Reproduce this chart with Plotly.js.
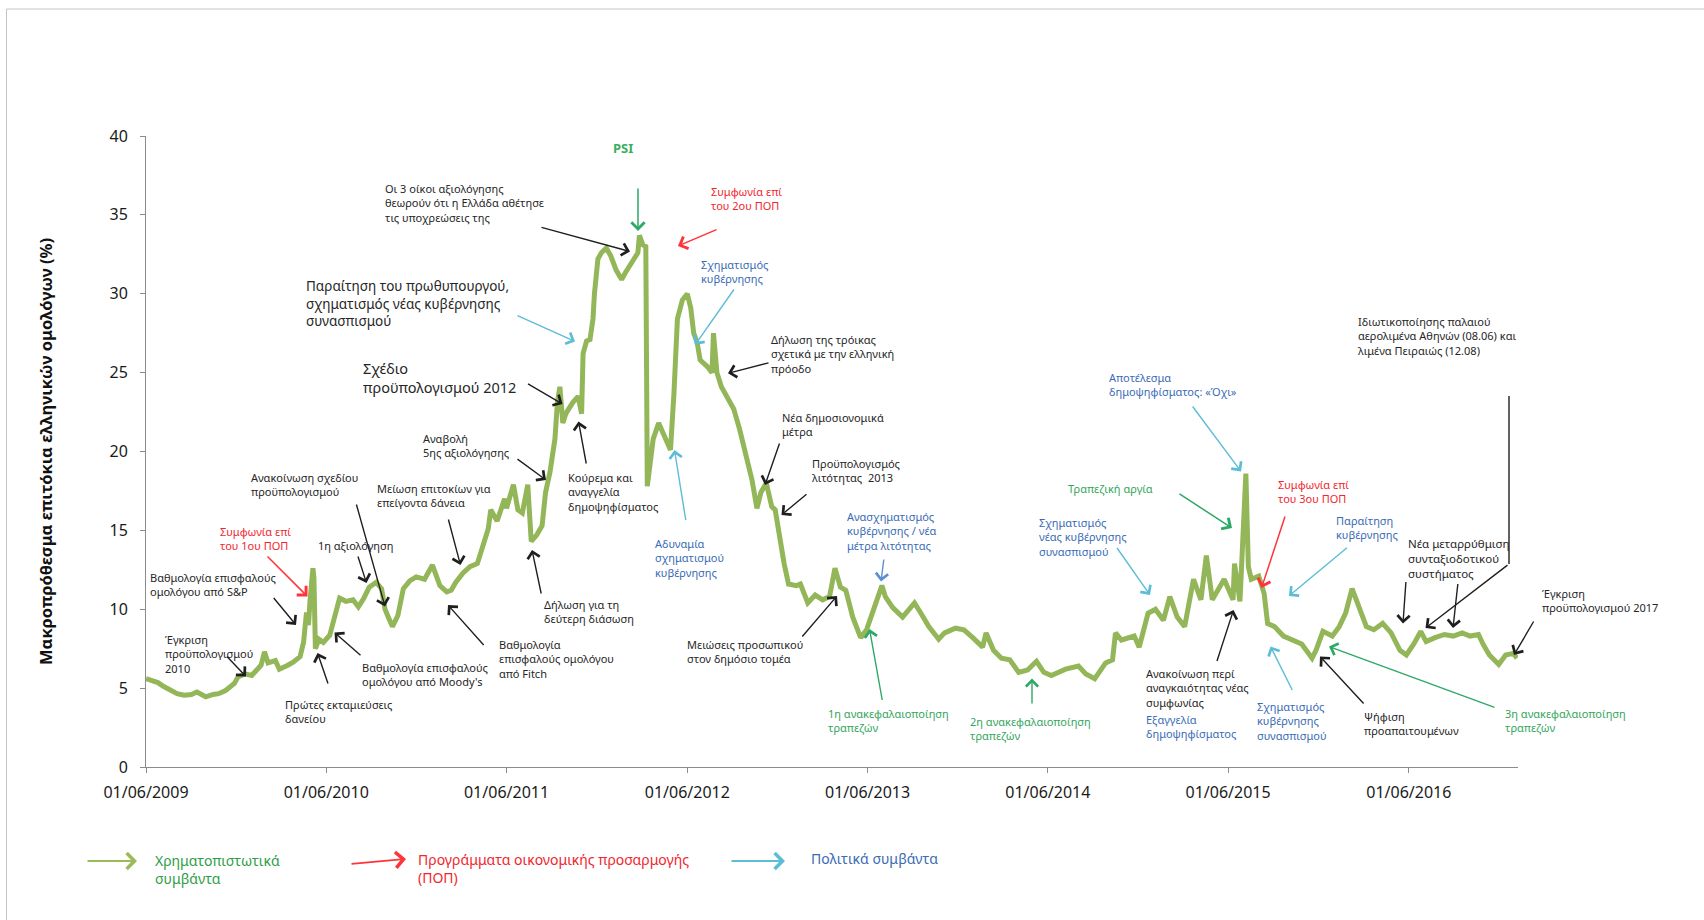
<!DOCTYPE html>
<html>
<head>
<meta charset="utf-8">
<script src="https://cdn.plot.ly/plotly-3.0.1.min.js"></script>
<style>html,body{margin:0;padding:0;background:#fff}#chart{width:1704px;height:920px}</style>
</head>
<body>
<div id="chart"></div>
<script>
// ---- data ----
const dates = [
'2009-06-01','2009-06-15','2009-06-25','2009-07-07','2009-07-22','2009-08-03','2009-08-17','2009-09-01','2009-09-12','2009-09-22',
'2009-09-30','2009-10-15','2009-10-26','2009-11-09','2009-11-20','2009-11-27','2009-12-04','2009-12-18','2010-01-01','2010-01-13',
'2010-01-20','2010-01-27','2010-02-03','2010-02-18','2010-02-26','2010-03-15','2010-03-26','2010-04-09','2010-04-16','2010-04-22',
'2010-04-26','2010-04-29','2010-05-05','2010-05-07','2010-05-10','2010-05-17','2010-05-26','2010-06-08','2010-06-19','2010-06-28',
'2010-07-11','2010-07-25','2010-08-05','2010-08-16','2010-08-27','2010-09-10','2010-09-21','2010-09-28','2010-10-06','2010-10-13',
'2010-10-24','2010-11-04','2010-11-17','2010-11-30','2010-12-17','2011-01-02','2011-01-17','2011-01-31','2011-02-09','2011-02-18',
'2011-03-05','2011-03-19','2011-04-03','2011-04-12','2011-04-25','2011-04-30','2011-05-13','2011-05-28','2011-06-01','2011-06-15',
'2011-06-24','2011-07-03','2011-07-14','2011-07-21','2011-08-01','2011-08-12','2011-08-19','2011-08-28','2011-09-07','2011-09-12',
'2011-09-17','2011-09-23','2011-09-29','2011-10-13','2011-10-24','2011-10-31','2011-11-03','2011-11-10','2011-11-17','2011-11-23',
'2011-11-26','2011-12-03','2011-12-10','2011-12-20','2011-12-29','2012-01-09','2012-01-20','2012-01-27','2012-02-05','2012-02-14',
'2012-02-22','2012-02-25','2012-03-03','2012-03-09','2012-03-12','2012-03-17','2012-03-24','2012-04-04','2012-04-13','2012-04-20',
'2012-04-28','2012-05-05','2012-05-12','2012-05-22','2012-06-01','2012-06-08','2012-06-14','2012-06-21','2012-06-27','2012-07-11',
'2012-07-21','2012-07-24','2012-07-31','2012-08-09','2012-08-20','2012-09-03','2012-09-15','2012-09-29','2012-10-10','2012-10-20',
'2012-10-28','2012-11-08','2012-11-19','2012-11-26','2012-12-03','2012-12-14','2012-12-23','2013-01-08','2013-01-16','2013-01-31',
'2013-02-15','2013-03-02','2013-03-16','2013-03-27','2013-04-07','2013-04-18','2013-05-02','2013-05-18','2013-05-30','2013-06-11',
'2013-06-30','2013-07-07','2013-07-22','2013-08-11','2013-09-04','2013-09-18','2013-10-03','2013-10-23','2013-11-04','2013-11-26',
'2013-12-13','2013-12-31','2014-01-20','2014-01-27','2014-02-11','2014-02-27','2014-03-16','2014-04-03','2014-04-21','2014-05-09',
'2014-05-24','2014-06-08','2014-06-23','2014-07-07','2014-08-02','2014-08-17','2014-09-04','2014-09-19','2014-09-26','2014-10-10',
'2014-10-16','2014-10-28','2014-11-23','2014-12-03','2014-12-21','2015-01-05','2015-01-21','2015-02-03','2015-02-18','2015-03-05',
'2015-03-23','2015-04-07','2015-04-18','2015-04-30','2015-05-24','2015-06-11','2015-06-14','2015-06-25','2015-07-01','2015-07-07',
'2015-07-12','2015-07-18','2015-08-02','2015-08-13','2015-08-20','2015-09-03','2015-09-21','2015-10-10','2015-10-28','2015-11-18',
'2015-11-26','2015-12-10','2015-12-29','2016-01-12','2016-01-25','2016-02-07','2016-02-18','2016-03-07','2016-03-22','2016-04-09',
'2016-04-26','2016-05-14','2016-05-27','2016-06-11','2016-06-25','2016-07-06','2016-07-24','2016-08-12','2016-08-30','2016-09-17',
'2016-10-03','2016-10-20','2016-10-29','2016-11-11','2016-11-30','2016-12-14','2016-12-29','2017-01-06'
];
const yields = [
5.6,5.5,5.35,5.1,4.85,4.65,4.55,4.6,4.75,4.55,
4.45,4.6,4.65,4.85,5.1,5.3,5.7,5.9,5.8,6.2,
6.45,7.3,6.6,6.75,6.2,6.45,6.65,7.0,7.9,9.8,
9.0,10.5,12.6,12.0,7.5,8.1,7.9,8.35,9.8,10.7,
10.5,10.6,10.15,10.7,11.4,11.7,11.3,10.0,9.4,8.9,
9.6,11.3,11.8,12.05,11.9,12.8,11.5,11.1,11.2,11.7,
12.3,12.7,12.9,13.8,15.1,16.3,15.6,17.0,16.4,17.9,
16.3,16.1,17.9,14.3,14.7,15.3,17.4,18.7,20.8,23.1,
24.1,21.8,22.4,23.1,23.5,22.4,26.2,27.0,27.1,28.4,
30.0,32.2,32.6,32.9,32.4,31.5,30.9,31.3,31.7,32.2,
32.6,33.7,33.1,33.0,17.8,19.1,20.8,21.8,21.1,20.75,
20.1,23.7,28.4,29.6,30.0,29.1,27.5,26.9,25.8,25.4,
25.0,27.5,25.0,24.1,23.5,22.7,21.4,19.7,18.2,16.4,
17.4,18.0,16.5,16.3,14.8,12.9,11.6,11.5,11.6,10.4,
10.9,10.6,10.8,12.6,11.4,11.2,9.5,8.2,8.7,9.7,
11.5,10.8,10.1,9.5,10.4,9.7,8.9,8.1,8.5,8.8,
8.7,8.2,7.6,8.5,7.4,6.9,6.8,6.0,6.15,6.7,
6.0,5.8,6.0,6.2,6.4,5.9,5.6,6.2,6.6,6.8,
8.5,8.05,8.3,7.6,9.75,10.0,9.3,10.8,9.5,8.9,
11.9,10.6,13.4,10.6,11.9,10.6,12.9,10.5,15.0,18.6,
12.7,11.9,12.1,11.0,9.1,8.9,8.3,8.05,7.8,6.9,
7.4,8.6,8.3,8.9,9.75,11.3,10.3,8.9,8.7,9.1,
8.5,7.4,7.1,7.8,8.6,7.95,8.2,8.4,8.3,8.5,
8.3,8.4,7.8,7.1,6.5,7.1,7.2,6.9
];
const tickDates = ['2009-06-01','2010-06-01','2011-06-01','2012-06-01','2013-06-01','2014-06-01','2015-06-01','2016-06-01'];
const tickLabels = ['01/06/2009','01/06/2010','01/06/2011','01/06/2012','01/06/2013','01/06/2014','01/06/2015','01/06/2016'];
const yTicks = [0,5,10,15,20,25,30,35,40];
const yTitle = 'Μακροπρόθεσμα επιτόκια ελληνικών ομολόγων (%)';

// ---- layout helpers (pixel -> paper) ----
const L = 146, R = 1518, T = 136, B = 767;
const W = R - L, H = B - T;
const px = x => (x - L) / W;
const py = y => (B - y) / H;
const FONT = 'Noto Sans, Open Sans, DejaVu Sans, sans-serif';

const K = '#262626', BL = '#3a6bb5', RD = '#f2262e', GR = '#33a65c';
const AK = '#1f1f1f', AG = '#2ea866', AC = '#5cbdd6', AR = '#ff3338', AB = '#5b8fd0';

function note(text, x, yc, color, size, extra) {
  return Object.assign({
    text: text, xref: 'paper', yref: 'paper', x: px(x), y: py(yc - size * 0.72),
    xanchor: 'left', yanchor: 'top', align: 'left', showarrow: false,
    font: {family: FONT, size: size, color: color}
  }, extra || {});
}
function arrow(x0, y0, x1, y1, color, w) {
  return {
    text: '', xref: 'paper', yref: 'paper', x: px(x1), y: py(y1),
    axref: 'pixel', ayref: 'pixel', ax: x0 - x1, ay: y0 - y1,
    showarrow: true, arrowhead: 4, arrowsize: 1.7, arrowwidth: w || 1.4,
    arrowcolor: color, standoff: 0, startstandoff: 0
  };
}

const S = 11;
const annotations = [
  note('<b>PSI</b>', 622.7, 146.7, '#38b060', 13, {xanchor: 'center'}),
  note('Οι 3 οίκοι αξιολόγησης<br>θεωρούν ότι η Ελλάδα αθέτησε<br>τις υποχρεώσεις της', 383, 186.5, K, S),
  note('Συμφωνία επί<br>του 2ου ΠΟΠ', 708.5, 190, RD, S),
  note('Σχηματισμός<br>κυβέρνησης', 698.5, 263.3, BL, S),
  note('Δήλωση της τρόικας<br>σχετικά με την ελληνική<br>πρόοδο', 769, 338.3, K, S),
  note('Νέα δημοσιονομικά<br>μέτρα', 780, 415.7, K, S),
  note('Προϋπολογισμός<br>λιτότητας  2013', 809.5, 461.5, K, S),
  note('Ανασχηματισμός<br>κυβέρνησης / νέα<br>μέτρα λιτότητας', 844.5, 515, BL, S),
  note('Μειώσεις προσωπικού<br>στον δημόσιο τομέα', 684.7, 642.5, K, S),
  note('1η ανακεφαλαιοποίηση<br>τραπεζών', 825.5, 711.7, GR, S),
  note('2η ανακεφαλαιοποίηση<br>τραπεζών', 968, 720, GR, S),
  note('Τραπεζική αργία', 1066, 486.5, GR, S),
  note('Σχηματισμός<br>νέας κυβέρνησης<br>συνασπισμού', 1037, 520.5, BL, S),
  note('Αποτέλεσμα<br>δημοψηφίσματος: «Όχι»', 1106.5, 376, BL, S),
  note('Συμφωνία επί<br>του 3ου ΠΟΠ', 1276, 482.7, RD, S),
  note('Παραίτηση<br>κυβέρνησης', 1334, 518.5, BL, S),
  note('Νέα μεταρρύθμιση<br>συνταξιοδοτικού<br>συστήματος', 1406, 542, K, 11.5),
  note('Ιδιωτικοποίησης παλαιού<br>αερολιμένα Αθηνών (08.06) και<br>λιμένα Πειραιώς (12.08)', 1355.5, 320, K, S),
  note('Έγκριση<br>προϋπολογισμού 2017', 1540, 591.5, K, S),
  note('Ψήφιση<br>προαπαιτουμένων', 1362, 715, K, S),
  note('3η ανακεφαλαιοποίηση<br>τραπεζών', 1503, 711.5, GR, S),
  note('Σχηματισμός<br>κυβέρνησης<br>συνασπισμού', 1255, 705, BL, S),
  note('Ανακοίνωση περί<br>αναγκαιότητας νέας<br>συμφωνίας', 1144, 671.5, K, S),
  note('Εξαγγελία<br>δημοψηφίσματος', 1144, 718.3, BL, S),
  note('Βαθμολογία επισφαλούς<br>ομολόγου από S&amp;P', 147.5, 576, K, S),
  note('Συμφωνία επί<br>του 1ου ΠΟΠ', 217.5, 530, RD, S),
  note('Ανακοίνωση σχεδίου<br>προϋπολογισμού', 249, 476, K, S),
  note('1η αξιολόγηση', 315.5, 544, K, S),
  note('Μείωση επιτοκίων για<br>επείγοντα δάνεια', 375, 487, K, S),
  note('Έγκριση<br>προϋπολογισμού<br>2010', 163, 638, K, S),
  note('Πρώτες εκταμιεύσεις<br>δανείου', 283, 703, K, S),
  note('Βαθμολογία επισφαλούς<br>ομολόγου από Moody\'s', 359.5, 666, K, S),
  note('Βαθμολογία<br>επισφαλούς ομολόγου<br>από Fitch', 497, 643.3, K, S),
  note('Δήλωση για τη<br>δεύτερη διάσωση', 542, 603, K, S),
  note('Κούρεμα και<br>αναγγελία<br>δημοψηφίσματος', 566, 476, K, S),
  note('Αναβολή<br>5ης αξιολόγησης', 421, 437, K, S),
  note('Σχέδιο<br>προϋπολογισμού 2012', 361, 366, K, 14.5),
  note('Παραίτηση του πρωθυπουργού,<br>σχηματισμός νέας κυβέρνησης<br>συνασπισμού', 304, 285, K, 13.5),
  note('Αδυναμία<br>σχηματισμού<br>κυβέρνησης', 652.5, 541.7, BL, S),
  // legend texts
  note('Χρηματοπιστωτικά<br>συμβάντα', 152.5, 859.5, '#2e9e48', 14),
  note('Προγράμματα οικονομικής προσαρμογής<br>(ΠΟΠ)', 416, 858.5, RD, 14),
  note('Πολιτικά συμβάντα', 808.5, 857, BL, 14),

  // arrows
  arrow(638, 187, 638, 231, AG, 1.5),
  arrow(540, 227, 630, 251.5, AK),
  arrow(718, 229, 678, 246, AR, 1.5),
  arrow(735, 288, 695, 345, AC),
  arrow(770, 362.5, 728, 373.3, AK),
  arrow(780, 442, 765, 485, AK),
  arrow(808, 493, 781.5, 515, AK),
  arrow(884, 558, 881, 581.5, AB),
  arrow(801, 638, 837, 596, AK),
  arrow(882.5, 701.5, 869.5, 629, AG),
  arrow(1032, 705, 1032, 678.5, AG),
  arrow(1178, 493, 1232, 528, AG, 1.5),
  arrow(1116, 546.5, 1150, 595, AC),
  arrow(1191.5, 405, 1241, 471.5, AC),
  arrow(1285.5, 515, 1261.5, 588, AR, 1.5),
  arrow(1348.5, 546.5, 1289, 596, AC),
  arrow(1406, 580.5, 1403, 623.5, AK),
  arrow(1458, 582.5, 1453, 628, AK),
  arrow(1509, 564, 1425.5, 628, AK),
  arrow(1534.5, 620, 1514, 655, AK),
  arrow(1365, 705, 1320, 656.5, AK),
  arrow(1496, 708, 1329, 646.5, AG),
  arrow(1293, 691.5, 1270.5, 646.5, AC),
  arrow(1216.5, 662.5, 1233.5, 610, AK),
  arrow(272.5, 596.5, 296, 625, AK),
  arrow(266, 555, 307.5, 596.5, AR, 1.5),
  arrow(356, 503, 385, 606.5, AK),
  arrow(357.5, 555, 366.5, 583, AK),
  arrow(448, 518, 460.5, 565, AK),
  arrow(225.5, 655, 246, 676.5, AK),
  arrow(328.5, 685, 317.5, 653, AK),
  arrow(362, 656.5, 334.5, 632.5, AK),
  arrow(485, 646.5, 448, 605, AK),
  arrow(541.5, 595, 532, 550, AK),
  arrow(586.5, 465, 578.5, 421.5, AK),
  arrow(516, 458, 546, 480, AK),
  arrow(526.5, 383, 562.5, 404, AK),
  arrow(516, 315, 575, 341.5, AC),
  arrow(686, 521.5, 674.5, 450, AC),
  // legend arrows
  arrow(86, 861, 137, 861, '#9bbb59', 1.8),
  arrow(350, 864, 406, 859, AR, 1.8),
  arrow(730, 861, 785, 861, AC, 1.8)
];

const shapes = [
  {type: 'line', xref: 'paper', yref: 'paper', x0: px(6.5), x1: px(6.5), y0: py(9), y1: py(920), line: {color: '#c4c4c4', width: 1}},
  {type: 'line', xref: 'paper', yref: 'paper', x0: px(6.5), x1: px(1704), y0: py(9), y1: py(9), line: {color: '#c4c4c4', width: 1}},
  {type: 'line', xref: 'paper', yref: 'paper', x0: px(1509), x1: px(1509), y0: py(396), y1: py(564), line: {color: AK, width: 1.4}}
];

const trace = {
  type: 'scatter', mode: 'lines', x: dates, y: yields,
  line: {color: '#93b658', width: 5}, hoverinfo: 'skip'
};

const layout = {
  width: 1704, height: 920,
  margin: {l: L, r: 1704 - R, t: T, b: 920 - B, pad: 0},
  paper_bgcolor: '#ffffff', plot_bgcolor: '#ffffff',
  showlegend: false, hovermode: false,
  font: {family: FONT, color: '#222'},
  xaxis: {
    type: 'date', range: ['2009-06-01', '2017-01-08'], autorange: false,
    tickmode: 'array', tickvals: tickDates, ticktext: tickLabels,
    showgrid: false, zeroline: false, showline: true, linecolor: '#8c8c8c', linewidth: 1,
    ticks: 'outside', ticklen: 5, tickcolor: '#8c8c8c', tickfont: {family: FONT, size: 16, color: '#1a1a1a'},
    ticklabelstandoff: 6,
    automargin: false
  },
  yaxis: {
    range: [0, 40], autorange: false, tickmode: 'array', tickvals: yTicks,
    showgrid: false, zeroline: false, showline: true, linecolor: '#8c8c8c', linewidth: 1,
    ticks: 'outside', ticklen: 5, tickcolor: '#8c8c8c', tickfont: {family: FONT, size: 16, color: '#1a1a1a'},
    ticklabelstandoff: 9,
    title: {text: '<b>' + yTitle + '</b>', font: {family: FONT, size: 16.5, color: '#111'}, standoff: 52},
    automargin: false
  },
  annotations: annotations,
  shapes: shapes
};

Plotly.newPlot('chart', [trace], layout, {displayModeBar: false, staticPlot: true});
</script>
</body>
</html>
